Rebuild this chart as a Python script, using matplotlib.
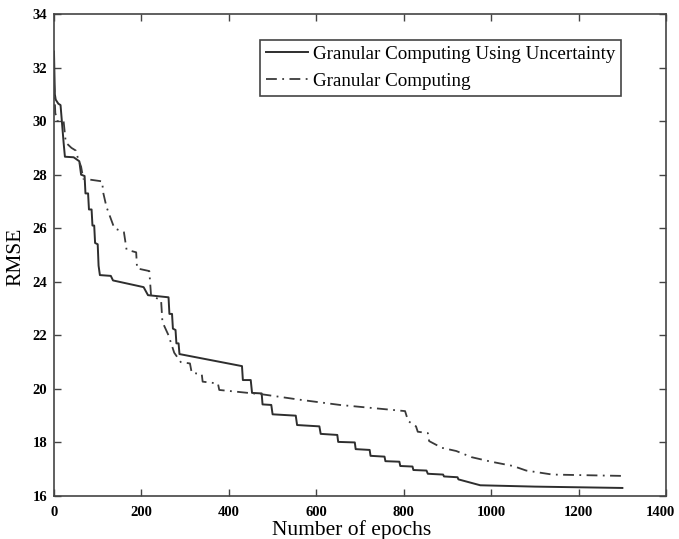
import numpy as np
import matplotlib
matplotlib.use('Agg')
import matplotlib.pyplot as plt
import matplotlib.transforms as mtrans

# ### data ###
# Granular Computing Using Uncertainty (solid)
epochs_gcu = [0, 2, 4, 10, 15, 18, 22, 25, 45, 58, 62, 70, 72, 78, 80, 86, 88, 92, 94, 100,
              102, 105, 130, 135, 205, 215, 262, 264, 270, 272, 278, 280, 285, 287, 430, 432,
              450, 453, 475, 477, 497, 500, 553, 556, 607, 610, 648, 650, 688, 690, 722, 724,
              756, 758, 790, 792, 820, 822, 852, 855, 890, 892, 923, 925, 975, 1100, 1300]
rmse_gcu = [32.6, 31.0, 30.8, 30.65, 30.6, 30.0, 29.2, 28.67, 28.65, 28.5, 28.0, 27.95, 27.3, 27.3,
            26.7, 26.7, 26.1, 26.1, 25.45, 25.4, 24.6, 24.25, 24.22, 24.05, 23.8, 23.5, 23.42, 22.8,
            22.8, 22.25, 22.2, 21.7, 21.7, 21.3, 20.85, 20.33, 20.33, 19.85, 19.83, 19.42, 19.4,
            19.05, 19.0, 18.65, 18.6, 18.32, 18.28, 18.02, 18.0, 17.75, 17.72, 17.5, 17.47, 17.3,
            17.28, 17.12, 17.1, 16.97, 16.95, 16.83, 16.8, 16.73, 16.7, 16.62, 16.4, 16.35, 16.3]

# Granular Computing (dash-dot)
epochs_gc = [0, 3, 8, 22, 27, 40, 50, 55, 62, 67, 110, 113, 120, 138, 160, 166, 188, 190, 218,
             222, 245, 248, 262, 275, 290, 311, 315, 338, 340, 375, 378, 450, 475, 560, 654, 803,
             810, 828, 832, 855, 858, 887, 920, 955, 1000, 1050, 1080, 1140, 1300]
rmse_gc = [31.5, 30.3, 30.0, 30.0, 29.2, 29.0, 28.9, 28.6, 28.3, 27.85, 27.75, 27.3, 26.8, 26.0,
           25.85, 25.2, 25.1, 24.5, 24.4, 23.5, 23.3, 22.5, 22.0, 21.35, 21.0, 20.95, 20.6, 20.55,
           20.27, 20.2, 19.96, 19.84, 19.8, 19.6, 19.4, 19.17, 18.8, 18.6, 18.4, 18.35, 18.05, 17.8,
           17.68, 17.45, 17.28, 17.12, 16.95, 16.8, 16.75]

plt.rcParams['font.family'] = 'Liberation Serif'

fig = plt.figure(figsize=(6.79, 5.39), dpi=100)
ax = fig.add_axes([0.0795, 0.0798, 0.9015, 0.8942])

ax.plot(epochs_gcu, rmse_gcu, '-', color='#2e2e2e', lw=1.4,
        label='Granular Computing Using Uncertainty')
ax.plot(epochs_gc, rmse_gc, color='#3a3a3a', lw=1.3, linestyle=(0, (6, 3, 1, 3)),
        label='Granular Computing')

ax.set_xlim(0, 1400)
ax.set_ylim(16, 34)
ax.set_xticks(np.arange(0, 1401, 200))
ax.set_yticks(np.arange(16, 35, 2))
ax.tick_params(direction='in', top=True, right=True, length=5, width=1,
               color='#444444', labelsize=10.5)
ax.tick_params(axis='x', pad=7)
ax.tick_params(axis='y', pad=5)
for lab in ax.get_xticklabels() + ax.get_yticklabels():
    lab.set_fontweight('bold')
for sp in ax.spines.values():
    sp.set_color('#444444')
    sp.set_linewidth(1.2)

# last x label sits a bit left of its tick so it stays inside the figure
last = ax.get_xticklabels()[-1]
last.set_transform(last.get_transform() + mtrans.ScaledTranslation(-6 / 100, 0, fig.dpi_scale_trans))

ax.set_xlabel('Number of epochs', fontsize=15.5)
ax.xaxis.set_label_coords(0.487, -0.05)
ax.set_ylabel('RMSE', fontsize=15.5)
ax.yaxis.set_label_coords(-0.047, 0.496)

leg = ax.legend(loc='upper left', bbox_to_anchor=(0.3366, 0.946), borderaxespad=0,
                fontsize=13.7, fancybox=False, edgecolor='#444444', framealpha=1,
                handlelength=2.2, borderpad=0.3, labelspacing=0.5, handletextpad=0.3)
leg.get_frame().set_linewidth(1.2)

plt.savefig('out.png', dpi=100)
